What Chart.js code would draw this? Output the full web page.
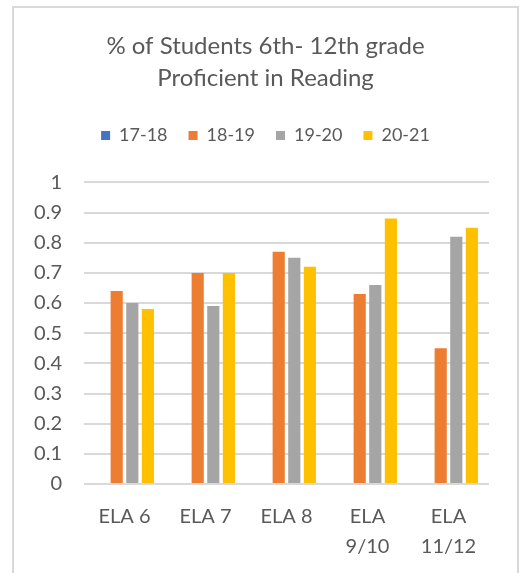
<!DOCTYPE html>
<html>
<head>
<meta charset="utf-8">
<script src="https://cdn.jsdelivr.net/npm/chart.js@4/dist/chart.umd.min.js"></script>
<style>
    html, body { margin: 0; padding: 0; background: #fff; overflow: hidden; }
    #frame {
        position: absolute;
        left: 12px; top: 6px;
        width: 503px; height: 600px;
        border: 2px solid #d9d9d9;
        border-bottom: none;
    }
    #chart { display: block; }
</style>
</head>
<body>
<div id="frame"><canvas id="chart" width="503" height="565"></canvas></div>
<script>
// Reading proficiency by grade and school year
const grades = [['ELA 6'], ['ELA 7'], ['ELA 8'], ['ELA', '9/10'], ['ELA', '11/12']];
const years = ['17-18', '18-19', '19-20', '20-21'];
const y1718 = [0, 0, 0, 0, 0];
const y1819 = [0.64, 0.70, 0.77, 0.63, 0.45];
const y1920 = [0.60, 0.59, 0.75, 0.66, 0.82];
const y2021 = [0.58, 0.70, 0.72, 0.88, 0.85];
const yTicks = [0, 0.1, 0.2, 0.3, 0.4, 0.5, 0.6, 0.7, 0.8, 0.9, 1];

const colors = ['#4472C4', '#ED7D31', '#A5A5A5', '#FFC000'];
const textColor = '#595959';
const fontFamily = 'Lato, "Open Sans", sans-serif';

// extra room between the legend and the plot
const legendGap = {
    id: 'legendGap',
    beforeInit(chart) {
        const origFit = chart.legend.fit;
        chart.legend.fit = function () {
            origFit.bind(chart.legend)();
            this.height += 28;
        };
    }
};

new Chart(document.getElementById('chart'), {
    type: 'bar',
    data: {
        labels: grades,
        datasets: [y1718, y1819, y1920, y2021].map((d, i) => ({
            label: years[i],
            data: d,
            backgroundColor: colors[i],
            borderWidth: 0,
            categoryPercentage: 0.77,
            barPercentage: 0.78
        }))
    },
    options: {
        responsive: false,
        animation: false,
        layout: { padding: { left: 0, right: 0, top: 0, bottom: 9 } },
        plugins: {
            title: {
                display: true,
                text: ['% of Students 6th- 12th grade', 'Proficient in Reading'],
                color: textColor,
                font: { family: fontFamily, size: 24, weight: 'normal', lineHeight: 1.3 },
                padding: { top: 23, bottom: 12 }
            },
            legend: {
                position: 'top',
                labels: {
                    color: textColor,
                    font: { family: fontFamily, size: 18 },
                    boxWidth: 9,
                    boxHeight: 9,
                    padding: 21
                }
            },
            tooltip: { enabled: false }
        },
        scales: {
            x: {
                grid: { display: false, drawTicks: false },
                border: { display: false },
                ticks: {
                    color: textColor,
                    font: { family: fontFamily, size: 20, lineHeight: 1.5 },
                    padding: 18,
                    maxRotation: 0
                },
                afterFit: s => { s.height = 80; }
            },
            y: {
                min: 0,
                max: 1,
                afterBuildTicks: s => { s.ticks = yTicks.map(v => ({ value: v })); },
                grid: { color: '#d9d9d9', lineWidth: 2, drawTicks: false },
                border: { display: false },
                ticks: {
                    color: textColor,
                    font: { family: fontFamily, size: 20 },
                    padding: 22,
                    callback: v => String(Math.round(v * 10) / 10)
                },
                afterFit: s => { s.width = 70; }
            },
            // blank margin on the right so title and legend stay centred on the canvas
            yRight: {
                position: 'right',
                display: true,
                grid: { display: false, drawTicks: false },
                border: { display: false },
                ticks: { display: false },
                afterFit: s => { s.width = 28; }
            }
        }
    },
    plugins: [legendGap]
});
</script>
</body>
</html>
